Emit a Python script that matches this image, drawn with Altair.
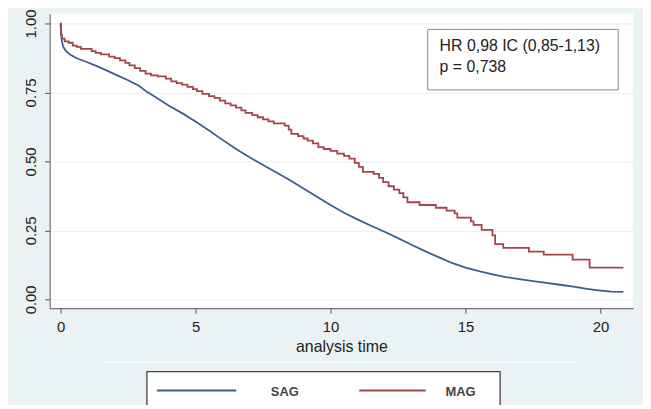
import altair as alt
import pandas as pd

# Kaplan-Meier estimates
sag_time = [0, 0.02, 0.05, 0.1, 0.2, 0.35, 0.6, 0.9, 1.3, 1.7, 2.1, 2.5, 2.9, 3.2, 3.6, 4.0,
            4.5, 5.0, 5.5, 6.0, 6.5, 7.0, 7.5, 8.0, 8.5, 9.0, 9.5, 10.0, 10.5, 11.0, 11.5,
            12.0, 12.5, 13.0, 13.5, 14.0, 14.5, 15.0, 15.5, 16.0, 16.5, 17.0, 17.5, 18.0,
            18.5, 19.0, 19.5, 20.0, 20.4, 20.85]
sag_surv = [1.0, 0.96, 0.935, 0.915, 0.9, 0.887, 0.874, 0.863, 0.847, 0.83, 0.812, 0.794,
            0.774, 0.752, 0.728, 0.703, 0.675, 0.645, 0.612, 0.578, 0.545, 0.515, 0.487,
            0.46, 0.432, 0.402, 0.372, 0.342, 0.314, 0.29, 0.267, 0.245, 0.222, 0.198,
            0.175, 0.153, 0.132, 0.115, 0.102, 0.091, 0.081, 0.073, 0.066, 0.06, 0.053,
            0.046, 0.038, 0.032, 0.028, 0.027]

mag_time = [0, 0.02, 0.05, 0.15, 0.3, 0.45, 0.6, 0.75, 1.15, 1.3, 1.5, 1.8, 2.0, 2.2, 2.4,
            2.55, 2.75, 2.95, 3.15, 3.35, 3.6, 3.9, 4.1, 4.3, 4.5, 4.7, 4.9, 5.05, 5.25, 5.5,
            5.7, 5.9, 6.1, 6.3, 6.5, 6.7, 6.85, 7.1, 7.3, 7.5, 7.7, 7.9, 8.3, 8.45, 8.55,
            8.8, 9.0, 9.15, 9.35, 9.55, 9.75, 10.0, 10.25, 10.5, 10.7, 10.9, 11.05, 11.2,
            11.6, 11.8, 11.95, 12.15, 12.35, 12.55, 12.7, 12.85, 13.3, 13.9, 14.3, 14.6,
            14.7, 15.2, 15.3, 15.6, 16.0, 16.1, 16.4, 17.35, 17.9, 18.97, 19.6, 20.85]
mag_surv = [1.0, 0.96, 0.945, 0.935, 0.93, 0.92, 0.915, 0.908, 0.9, 0.893, 0.888, 0.88,
            0.874, 0.866, 0.857, 0.848, 0.838, 0.828, 0.818, 0.812, 0.808, 0.8, 0.79, 0.784,
            0.778, 0.77, 0.762, 0.755, 0.745, 0.737, 0.73, 0.72, 0.71, 0.703, 0.695, 0.685,
            0.676, 0.668, 0.66, 0.652, 0.645, 0.638, 0.63, 0.615, 0.6, 0.592, 0.583, 0.575,
            0.565, 0.552, 0.545, 0.538, 0.528, 0.52, 0.51, 0.495, 0.48, 0.462, 0.455, 0.44,
            0.425, 0.41, 0.398, 0.385, 0.37, 0.352, 0.342, 0.332, 0.322, 0.312, 0.296,
            0.283, 0.27, 0.252, 0.232, 0.2, 0.187, 0.173, 0.162, 0.144, 0.115, 0.115]

groups = ["SAG", "MAG"]
colors = ["#3e5d8c", "#a3464c"]
y_ticks = [0, 0.25, 0.5, 0.75, 1.0]
x_ticks = [0, 5, 10, 15, 20]
annot_lines = ["HR 0,98 IC (0,85-1,13)", "p = 0,738"]
x_title = "analysis time"

df = pd.concat([
    pd.DataFrame({"t": sag_time, "s": sag_surv, "g": "SAG"}),
    pd.DataFrame({"t": mag_time, "s": mag_surv, "g": "MAG"}),
])

FONT = "Liberation Sans"
W, H = 588, 297

xs = alt.Scale(domain=[-0.404, 21.21], nice=False, zero=False)
ys = alt.Scale(domain=[-0.032, 1.036], nice=False, zero=False)

x_axis = alt.Axis(values=x_ticks, title=x_title, grid=False, domainColor="#555555",
                  tickColor="#555555", tickSize=5, labelFontSize=15, labelColor="#222222",
                  labelFont=FONT, labelPadding=6, titleFont=FONT, titleFontSize=16,
                  titleFontWeight="normal", titleColor="#222222", titlePadding=5)
y_axis = alt.Axis(values=y_ticks, format=".2f", title=None, grid=True, gridColor="#EAF2F3",
                  gridWidth=1.2, domainColor="#555555", tickColor="#555555", tickSize=5,
                  labelAngle=270, labelAlign="center", labelBaseline="bottom",
                  labelFontSize=15, labelColor="#222222", labelFont=FONT, labelPadding=6)

color = alt.Color("g:N", scale=alt.Scale(domain=groups, range=colors), legend=None)

base = alt.Chart(df)
sag_line = base.transform_filter(alt.datum.g == "SAG").mark_line(
    strokeWidth=1.8, interpolate="linear").encode(
    x=alt.X("t:Q", scale=xs, axis=x_axis), y=alt.Y("s:Q", scale=ys, axis=y_axis), color=color)
mag_line = base.transform_filter(alt.datum.g == "MAG").mark_line(
    strokeWidth=1.8, interpolate="step-after").encode(
    x=alt.X("t:Q", scale=xs), y=alt.Y("s:Q", scale=ys), color=color)

one = pd.DataFrame({"a": [0]})
anno_box = alt.Chart(one).mark_rect(fill="white", stroke="#888888", strokeWidth=1).encode(
    x=alt.value(381), x2=alt.value(573), y=alt.value(16), y2=alt.value(77))
anno_text = alt.Chart(pd.DataFrame({"txt": annot_lines, "yy": [38, 59]})).mark_text(
    align="left", baseline="alphabetic", font=FONT, fontSize=16, color="#222222").encode(
    x=alt.value(393), y=alt.Y("yy:Q", scale=None), text="txt:N")

sep = alt.Chart(one).mark_rule(color="#f7fafa", strokeWidth=1.5).encode(
    x=alt.value(54), x2=alt.value(533), y=alt.value(351))
leg_box = alt.Chart(one).mark_rect(fill="white", stroke="#444444", strokeWidth=1.3).encode(
    x=alt.value(98), x2=alt.value(454), y=alt.value(361), y2=alt.value(420))
leg_df = pd.DataFrame({"g": groups, "x1": [108, 312], "x2": [188, 379], "tx": [237, 414]})
leg_lines = alt.Chart(leg_df).mark_rule(strokeWidth=2).encode(
    x=alt.X("x1:Q", scale=None), x2="x2:Q", y=alt.value(380), color=color)
leg_text = alt.Chart(leg_df).mark_text(font=FONT, fontSize=13, fontWeight="bold",
                                       color="#444444", baseline="middle").encode(
    x=alt.X("tx:Q", scale=None), y=alt.value(381), text="g:N")

chart = alt.layer(sag_line, mag_line, anno_box, anno_text, sep, leg_box, leg_lines, leg_text).properties(
    width=W, height=H, background="#EAF2F3",
    padding={"left": 42, "top": 4, "right": 10, "bottom": 96},
    autosize=alt.AutoSizeParams(type="none"),
).configure_view(fill="white", stroke=None)

chart.save("out.html", embed_options={"renderer": "svg", "actions": False})
